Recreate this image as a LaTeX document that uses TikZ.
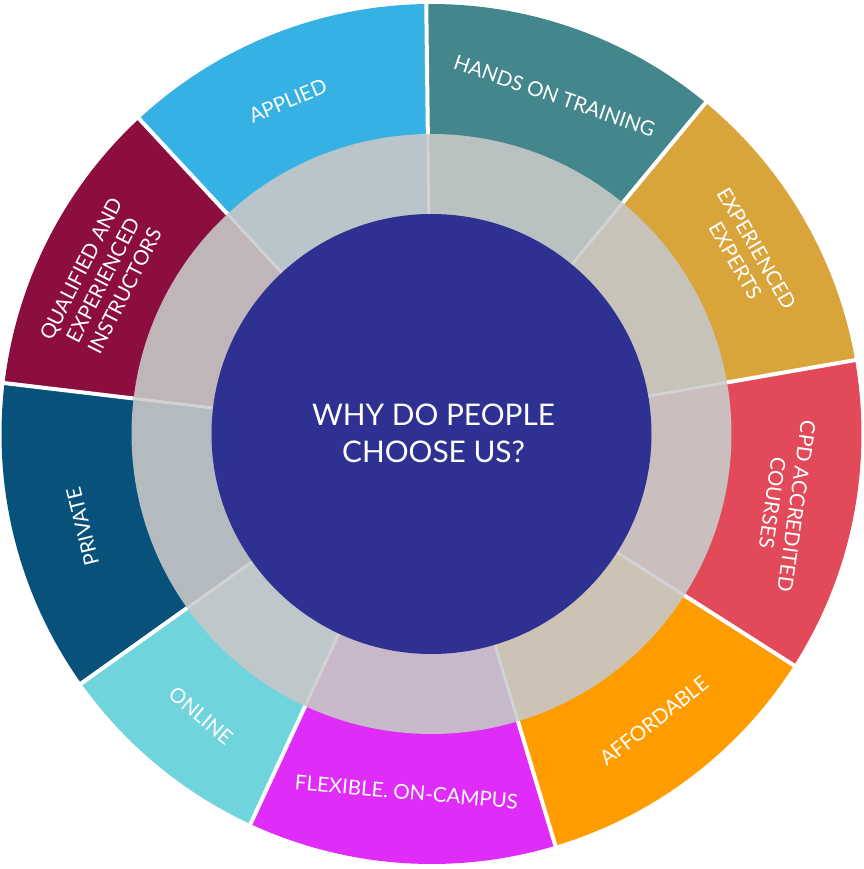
\documentclass[tikz,border=0pt]{standalone}
\usepackage{fontspec}
\setmainfont{Lato}
\definecolor{cApplied}{HTML}{36B1E3}
\definecolor{cHands}{HTML}{43868C}
\definecolor{cExpert}{HTML}{D9A43A}
\definecolor{cCPD}{HTML}{E24A59}
\definecolor{cAfford}{HTML}{FF9C00}
\definecolor{cFlex}{HTML}{DF2CF9}
\definecolor{cOnline}{HTML}{70D4DD}
\definecolor{cPrivate}{HTML}{07517B}
\definecolor{cQual}{HTML}{8C0E3E}
\definecolor{iApplied}{HTML}{B9C4CB}
\definecolor{iHands}{HTML}{B9C1C1}
\definecolor{iExpert}{HTML}{C7C3B9}
\definecolor{iCPD}{HTML}{CABEBF}
\definecolor{iAfford}{HTML}{CCC3B4}
\definecolor{iFlex}{HTML}{C7B8CA}
\definecolor{iOnline}{HTML}{BEC8CA}
\definecolor{iPrivate}{HTML}{B3BBC0}
\definecolor{iQual}{HTML}{C0B5B8}
\definecolor{sepGrey}{HTML}{D2D2D4}
\definecolor{cCenter}{HTML}{2E3192}
\begin{document}
\begin{tikzpicture}[x=1pt,y=1pt,
  lbl/.style={text=white, font=\fontsize{20.5}{24.5}\selectfont, align=center, inner sep=0pt},
  ctr/.style={text=white, font=\fontsize{29.8}{37}\selectfont, align=center, inner sep=0pt},
  whitesep/.style={white, line width=4pt},
  greysep/.style={sepGrey, line width=3pt}]
\useasboundingbox (-431.5,-435) rectangle (431.5,434);
% sectors: start/end/outer colour/inner colour
\foreach \a/\b/\co/\ci in {
  132.85/90.7/cApplied/iApplied,
  90.7/50.4/cHands/iHands,
  50.4/9.9/cExpert/iExpert,
  9.9/-32.55/cCPD/iCPD,
  -32.55/-73.25/cAfford/iAfford,
  -73.25/-114.9/cFlex/iFlex,
  -114.9/-144.55/cOnline/iOnline,
  -144.55/-186.8/cPrivate/iPrivate,
  173.2/132.85/cQual/iQual}{
  \fill[\co] (0,0) -- (\a:430) arc[start angle=\a, end angle=\b, radius=430] -- cycle;
  \fill[\ci] (0,0) -- (\a:300) arc[start angle=\a, end angle=\b, radius=300] -- cycle;
}
\foreach \a in {132.85,90.7,50.4,9.9,-32.55,-73.25,-114.9,-144.55,173.2}{
  \draw[whitesep] (\a:300) -- (\a:436);
  \draw[greysep] (\a:215) -- (\a:300);
}
\fill[cCenter] (0,0) circle[radius=220];
\node[ctr] (center) at (2,1) {WHY DO PEOPLE\\CHOOSE US?};
% labels
\node[lbl, rotate=23] (applied) at (113.3:363) {APPLIED};
\node[lbl, rotate=-19] (hands) at (70:360) {HANDS ON TRAINING};
\node[lbl, rotate=-60] (expert) at (29.7:362) {EXPERIENCED\\EXPERTS};
\node[lbl, rotate=-98] (cpd) at (-11.3:360) {CPD ACCREDITED\\COURSES};
\node[lbl, rotate=38] (afford) at (-52.2:363) {AFFORDABLE};
\node[lbl, rotate=-5] (flex) at (-94:359) {FLEXIBLE. ON-CAMPUS};
\node[lbl, rotate=-40] (online) at (-129.3:364) {ONLINE};
\node[lbl, rotate=104] (private) at (194.9:361) {PRIVATE};
\node[lbl, rotate=63] (qual) at (154.9:363) {QUALIFIED AND\\EXPERIENCED\\INSTRUCTORS};
\end{tikzpicture}
\end{document}
